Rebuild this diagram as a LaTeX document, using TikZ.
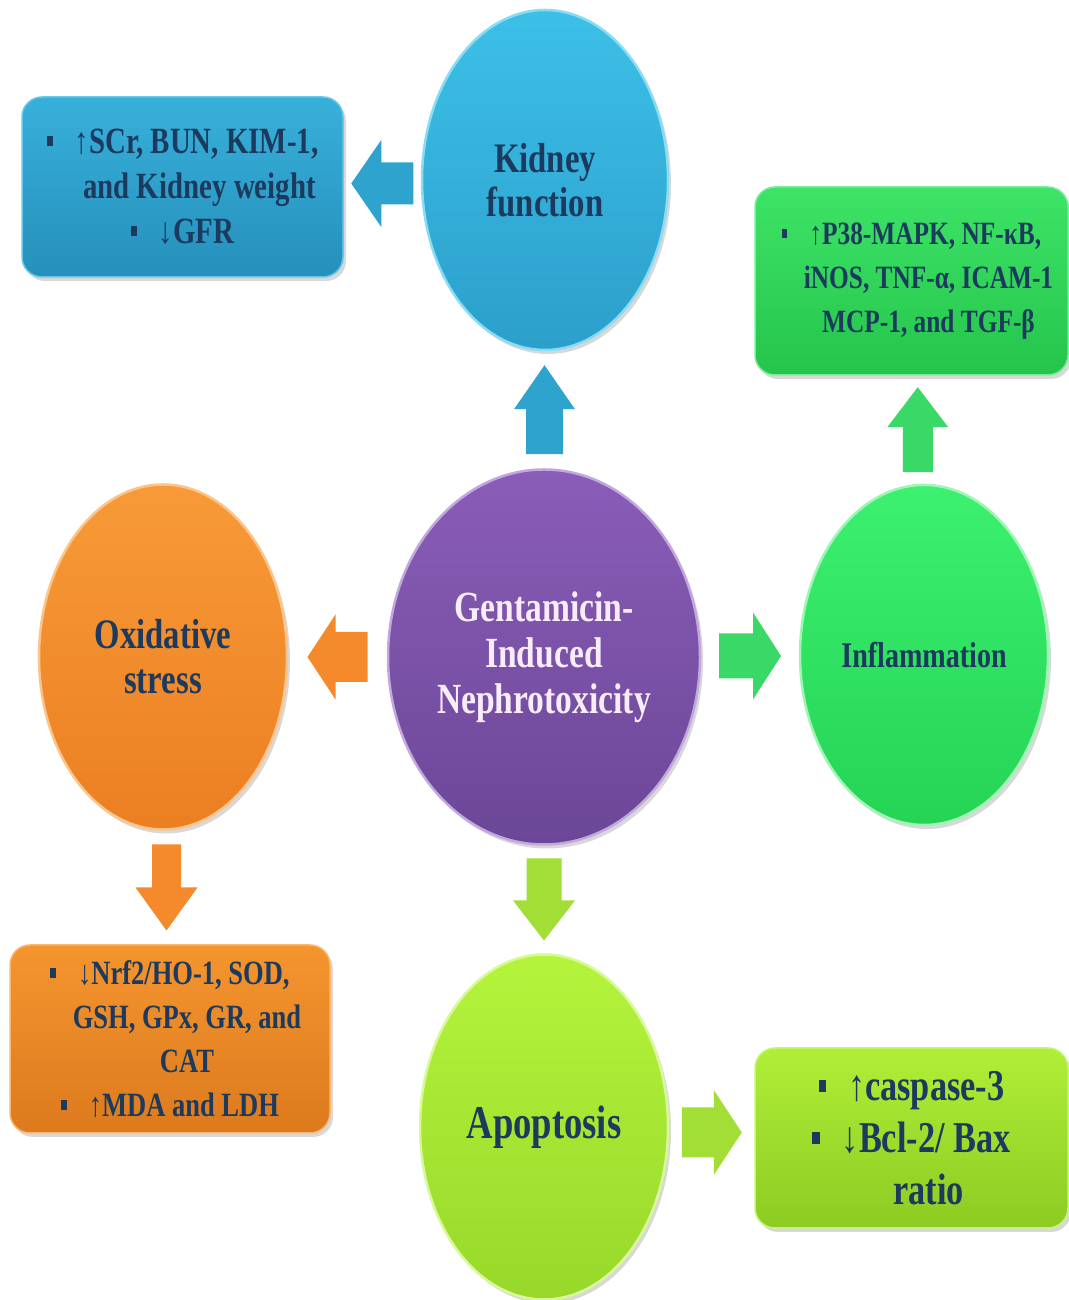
\documentclass[tikz,border=0pt]{standalone}
\usepackage{fontspec}
\setmainfont{Liberation Serif}[FakeStretch=0.78]
\usetikzlibrary{shapes.geometric,shadows,calc}

\definecolor{txtnavy}{HTML}{1C3A5E}
\definecolor{txtlight}{HTML}{F8ECF8}
\definecolor{kidtop}{HTML}{3CC0E8}\definecolor{kidbot}{HTML}{2C9FCB}\definecolor{kidrim}{HTML}{8ADCF3}
\definecolor{gentop}{HTML}{8A5DB8}\definecolor{genbot}{HTML}{6B4797}\definecolor{genrim}{HTML}{C3A8E0}
\definecolor{oxitop}{HTML}{F89A38}\definecolor{oxibot}{HTML}{EB7F22}\definecolor{oxirim}{HTML}{FAC48A}
\definecolor{inftop}{HTML}{3CF070}\definecolor{infbot}{HTML}{25D454}\definecolor{infrim}{HTML}{9EF5B5}
\definecolor{apotop}{HTML}{B4F43C}\definecolor{apobot}{HTML}{98D82A}\definecolor{aporim}{HTML}{D8F89A}
\definecolor{kboxtop}{HTML}{38B0DA}\definecolor{kboxbot}{HTML}{2590BC}\definecolor{kboxrim}{HTML}{6BC8E8}
\definecolor{iboxtop}{HTML}{3DE466}\definecolor{iboxbot}{HTML}{25C44C}\definecolor{iboxrim}{HTML}{7EEB9A}
\definecolor{oboxtop}{HTML}{F5952F}\definecolor{oboxbot}{HTML}{DC7A1E}\definecolor{oboxrim}{HTML}{F8B870}
\definecolor{aboxtop}{HTML}{B0EE38}\definecolor{aboxbot}{HTML}{8CCC22}\definecolor{aboxrim}{HTML}{C8F47A}
\definecolor{arrblue}{HTML}{2EA3CD}
\definecolor{arrorange}{HTML}{F58A2C}
\definecolor{arrgreen}{HTML}{3AD866}
\definecolor{arrlime}{HTML}{A2DE36}

\newcommand\sqb{\rule[0.2em]{0.17em}{0.27em}\hspace{22pt}}
\newcommand\indline{\hspace*{34pt}}
\newcommand\blockarrow[7]{%
  \fill[#1, shift={#2}, rotate=#3] ({#4/2},0) -- ({#4/2-#6},{#5/2}) -- ({#4/2-#6},{#7/2})
    -- ({-#4/2},{#7/2}) -- ({-#4/2},{-#7/2}) -- ({#4/2-#6},{-#7/2}) -- ({#4/2-#6},{-#5/2}) -- cycle;}

\begin{document}
\begin{tikzpicture}[
                x=1pt, y=1pt,
                oval/.style={ellipse, inner sep=0pt, align=center, text=txtnavy, line width=2.5pt,
                    drop shadow={opacity=.3, shadow xshift=3pt, shadow yshift=-4pt}},
                infobox/.style={rectangle, rounded corners=20pt, inner sep=0pt, align=center,
                    text=txtnavy, line width=1.5pt,
                    drop shadow={opacity=.3, shadow xshift=3pt, shadow yshift=-4pt}},
            ]
                \useasboundingbox[fill=white] (0, 0) rectangle (1068, 1300);
                \node[oval, top color=kidtop, bottom color=kidbot, draw=kidrim, minimum width=246, minimum height=340,
                    font=\fontsize{42}{44}\selectfont\bfseries] (kidney) at (545, 1120) {Kidney\\function};
                \node[oval, top color=gentop, bottom color=genbot, draw=genrim, minimum width=312, minimum height=375,
                    text=txtlight, font=\fontsize{43}{46}\selectfont\bfseries] (gent) at (544, 643) {Gentamicin-\\Induced\\Nephrotoxicity};
                \node[oval, top color=oxitop, bottom color=oxibot, draw=oxirim, minimum width=248, minimum height=345,
                    font=\fontsize{42}{45}\selectfont\bfseries] (oxid) at (163, 643) {Oxidative\\stress};
                \node[oval, top color=inftop, bottom color=infbot, draw=infrim, minimum width=248, minimum height=340,
                    font=\fontsize{36}{40}\selectfont\bfseries] (inflam) at (924, 645) {Inflammation};
                \node[oval, top color=apotop, bottom color=apobot, draw=aporim, minimum width=248, minimum height=345,
                    font=\fontsize{47}{50}\selectfont\bfseries] (apop) at (544, 173) {Apoptosis};
                \node[infobox, top color=kboxtop, bottom color=kboxbot, draw=kboxrim, minimum width=321, minimum height=180,
                    font=\fontsize{37}{45}\selectfont\bfseries] (kbox) at (182.5, 1113)
                    {\sqb↑SCr, BUN, KIM-1,\\\indline and Kidney weight\\\sqb↓GFR};
                \node[infobox, top color=iboxtop, bottom color=iboxbot, draw=iboxrim, minimum width=313, minimum height=188,
                    font=\fontsize{32.5}{44}\selectfont\bfseries] (ibox) at (911.5, 1019)
                    {\sqb↑P38-MAPK, NF-κB,\\\indline iNOS, TNF-α, ICAM-1\\\indline MCP-1, and TGF-β};
                \node[infobox, top color=oboxtop, bottom color=oboxbot, draw=oboxrim, minimum width=320, minimum height=188,
                    font=\fontsize{34}{44}\selectfont\bfseries] (obox) at (170, 261)
                    {\sqb↓Nrf2/HO-1, SOD,\\\indline GSH, GPx, GR, and\\\indline CAT\\\sqb↑MDA and LDH};
                \node[infobox, top color=aboxtop, bottom color=aboxbot, draw=aboxrim, minimum width=313, minimum height=180,
                    font=\fontsize{44}{52}\selectfont\bfseries] (abox) at (911.5, 162)
                    {\sqb↑caspase-3\\\sqb↓Bcl-2/ Bax\\\indline ratio};
                \blockarrow{arrblue}{($(kidney.west)!.5!(kbox.east)$)}{180}{62}{87}{30}{42}
                \blockarrow{arrblue}{($(gent.north)!.5!(kidney.south)$)}{90}{89}{61}{44}{37}
                \blockarrow{arrgreen}{($(inflam.north)!.5!(ibox.south)$)}{90}{85}{61}{40}{30}
                \blockarrow{arrorange}{($(gent.west)!.5!(oxid.east)$)}{180}{60}{85}{28}{50}
                \blockarrow{arrgreen}{($(gent.east)!.5!(inflam.west)$)}{0}{62}{87}{28}{45}
                \blockarrow{arrorange}{($(oxid.south)!.5!(obox.north)$)}{270}{86}{62}{43}{29}
                \blockarrow{arrlime}{($(gent.south)!.5!(apop.north)$)}{270}{82}{62}{40}{35}
                \blockarrow{arrlime}{($(apop.east)!.5!(abox.west)$)}{0}{60}{85}{28}{50}
            \end{tikzpicture}
\end{document}
